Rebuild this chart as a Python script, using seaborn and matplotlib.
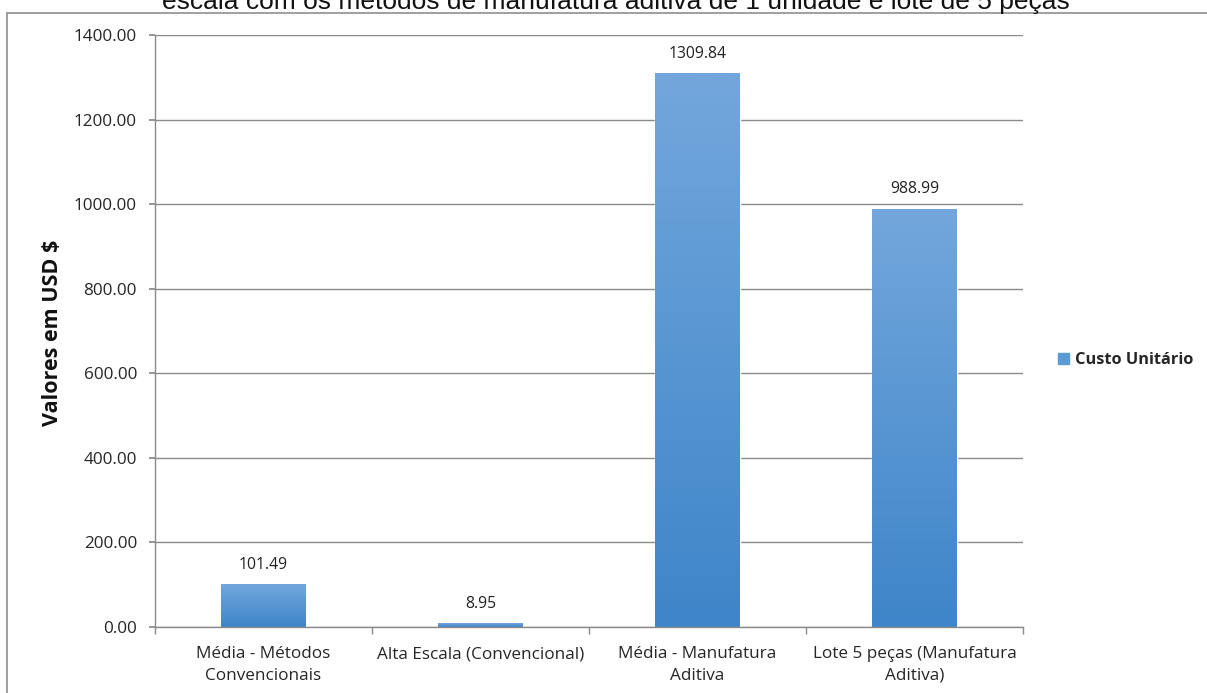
import numpy as np
import pandas as pd
import seaborn as sns
import matplotlib.pyplot as plt
from matplotlib.patches import Rectangle
from matplotlib.lines import Line2D
from matplotlib.colors import LinearSegmentedColormap

categories = ['Média - Métodos\nConvencionais', 'Alta Escala (Convencional)',
              'Média - Manufatura\nAditiva', 'Lote 5 peças (Manufatura\nAditiva)']
custo = [101.49, 8.95, 1309.84, 988.99]
yticks = [0, 200, 400, 600, 800, 1000, 1200, 1400]

sns.set_theme(style='white')
plt.rcParams['font.family'] = ['Open Sans', 'DejaVu Sans']

df = pd.DataFrame({'cat': categories, 'val': custo})

W, H = 1207, 693
fig = plt.figure(figsize=(W / 100, H / 100), dpi=100)
ax = fig.add_axes([155 / W, 1 - 627 / H, (1023 - 155) / W, (627 - 35) / H])

sns.barplot(data=df, x='cat', y='val', color='#5b9bd5', width=0.39, ax=ax, saturation=1)

# gradient fill like the spreadsheet bars
cmap = LinearSegmentedColormap.from_list('bar', ['#3e85c9', '#73a7dc'])
grad = np.linspace(0, 1, 256).reshape(-1, 1)
for p in ax.patches:
    x0, w, h = p.get_x(), p.get_width(), p.get_height()
    im = ax.imshow(grad, cmap=cmap, aspect='auto', origin='lower',
                   extent=[x0, x0 + w, 0, h], zorder=p.get_zorder() + 0.1)
    im.set_clip_path(p)
    ax.text(x0 + w / 2, h + 27, f'{h:.2f}', ha='center', va='bottom',
            fontsize=11.3, color='#222222')

ax.set_xlim(-0.5, 3.5)
ax.set_ylim(0, 1400)
ax.set_yticks(yticks)
ax.set_yticklabels([f'{v:.2f}' for v in yticks], fontsize=12.3, color='#262626')
ax.yaxis.grid(True, color='#8a8a8a', linewidth=1.0)
ax.set_axisbelow(True)

ax.set_xticks(range(4))
ax.set_xticklabels(categories, fontsize=12.3, color='#262626', linespacing=1.45)
ax.tick_params(axis='x', length=0, pad=14)
ax.set_xticks([-0.5, 0.5, 1.5, 2.5, 3.5], minor=True)
ax.tick_params(axis='x', which='minor', length=5, color='#8a8a8a', direction='out', bottom=True)
ax.tick_params(axis='y', length=4, color='#8a8a8a', direction='out', left=True, pad=9)

ax.set_xlabel('')
ax.set_ylabel('')
fig.text(53 / W, 1 - 333 / H, 'Valores em USD $', rotation=90, ha='center', va='center',
         fontsize=15.5, fontweight='bold', color='#111111')

for s in ['top', 'right']:
    ax.spines[s].set_visible(False)
for s in ['left', 'bottom']:
    ax.spines[s].set_color('#8a8a8a')
    ax.spines[s].set_linewidth(1.0)

# legend
handle = Rectangle((0, 0), 1, 1, color='#5b9bd5')
fig.legend([handle], ['Custo Unitário'], loc='center left',
           bbox_to_anchor=(1043 / W, 1 - 360 / H), frameon=False,
           handlelength=0.7, handleheight=0.7, handletextpad=0.35,
           prop={'size': 11.8, 'weight': 'bold'})

# chart frame border
fig.add_artist(Line2D([7 / W, 7 / W], [0, 1 - 12.5 / H], transform=fig.transFigure,
                      color='#8f8f8f', linewidth=1.2))
fig.add_artist(Line2D([7 / W, 1], [1 - 12.5 / H, 1 - 12.5 / H], transform=fig.transFigure,
                      color='#8f8f8f', linewidth=1.2))

# title, cut off at the top edge as in the source
fig.text(616 / W, 1 - 8.5 / H, 'escala com os métodos de manufatura aditiva de 1 unidade e lote de 5 peças',
         ha='center', va='baseline', fontsize=19, family=['Liberation Sans', 'DejaVu Sans'],
         color='#111111')

fig.savefig('out.png', dpi=100)
